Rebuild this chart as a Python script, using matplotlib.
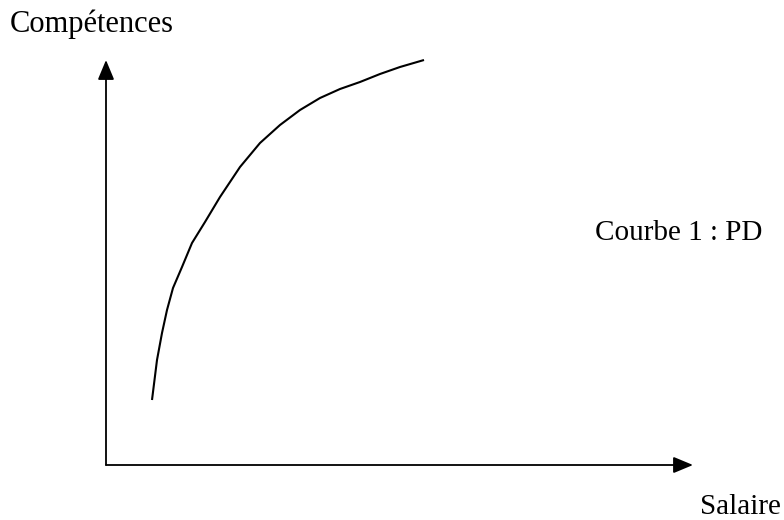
import numpy as np
import matplotlib
matplotlib.use("Agg")
import matplotlib.pyplot as plt

# schematic curve "Courbe 1 : PD" (salary -> skills), origin at the axis corner
salaire = [46, 51, 56, 61, 67, 76, 86, 99, 114, 134, 154, 174, 194, 214, 234, 254, 274, 294, 318]
competences = [65, 105, 132, 155, 177, 198, 222, 243, 268, 298, 322, 340, 355, 367, 376, 383, 391, 398, 405]

X_MAX = 587      # end of the salary axis (arrow tip)
Y_MAX = 405      # end of the skills axis (arrow tip)

plt.rcParams["font.family"] = ["Liberation Serif", "DejaVu Serif"]

fig = plt.figure(figsize=(7.84, 5.2), dpi=100)
ax = fig.add_axes([0, 0, 1, 1])
ax.set_xlim(-106, 678)
ax.set_ylim(-55, 465)
ax.axis("off")

arrow = dict(arrowstyle="-|>,head_length=0.6,head_width=0.25", mutation_scale=20,
             lw=1.3, color="black", shrinkA=0, shrinkB=0)
ax.annotate("", xy=(0, Y_MAX), xytext=(0, 0), arrowprops=arrow)
ax.annotate("", xy=(X_MAX, 0), xytext=(0, 0), arrowprops=arrow)

ax.plot(salaire, competences, color="black", lw=1.5, solid_capstyle="butt",
        solid_joinstyle="round")

ax.text(-96, 433, "Compétences", fontsize=22, va="baseline", ha="left")
ax.text(594, -49, "Salaire", fontsize=21, va="baseline", ha="left")
ax.text(489, 225, "Courbe 1 : PD", fontsize=21, va="baseline", ha="left")

fig.savefig("out.png", dpi=100)
